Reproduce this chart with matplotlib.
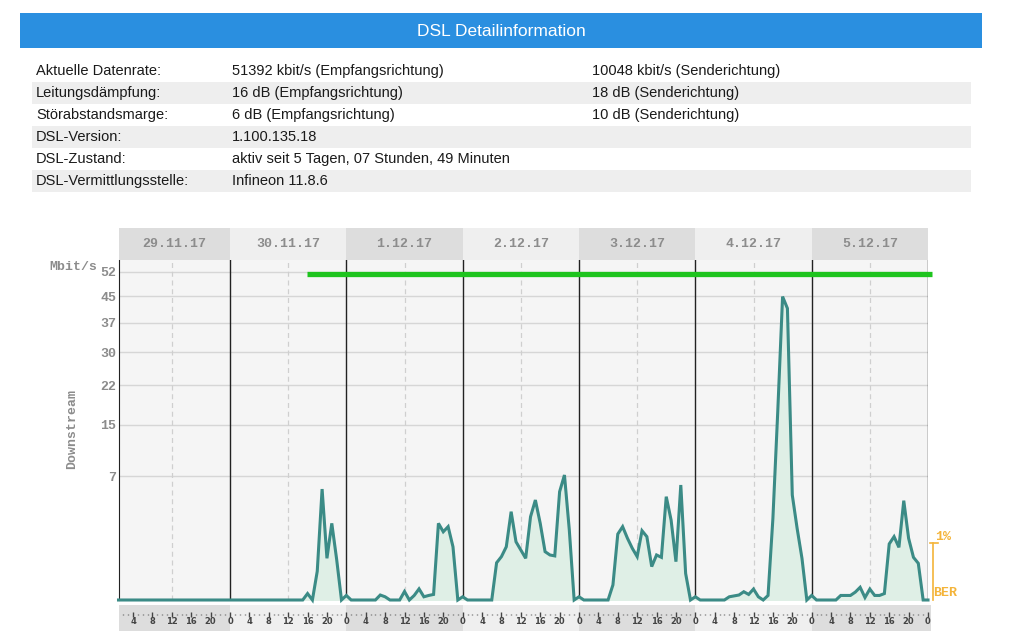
import numpy as np
import matplotlib
matplotlib.use('Agg')
import matplotlib.pyplot as plt
from matplotlib.patches import Rectangle
from matplotlib.lines import Line2D


#################### Data ####################

days = ['29.11.17', '30.11.17', '1.12.17', '2.12.17', '3.12.17', '4.12.17', '5.12.17']

# downstream usage in Mbit/s, one value per hour (0..23) for every day
ds_29_11 = [0] * 24
ds_30_11 = [0] * 15 + [0, 0.02, 0, 0.4, 5.95, 0.84, 2.84, 0.8, 0]
ds_01_12 = [0.01, 0, 0, 0, 0, 0, 0, 0.012, 0.005, 0, 0, 0,
            0.035, 0, 0.01, 0.06, 0.005, 0.01, 0.015, 2.84, 2.25, 2.6, 1.37, 0]
ds_02_12 = [0.005, 0, 0, 0, 0, 0, 0, 0.67, 0.91, 1.37, 3.77, 1.64,
            1.21, 0.84, 3.35, 4.83, 2.84, 1.13, 0.98, 0.94, 5.67, 7.55, 2.37, 0]
ds_03_12 = [0.005, 0, 0, 0, 0, 0, 0, 0.11, 2.1, 2.6, 1.84, 1.29,
            0.91, 2.32, 1.94, 0.54, 0.98, 0.88, 5.16, 3.09, 0.71, 6.39, 0.34, 0]
ds_04_12 = [0.005, 0, 0, 0, 0, 0, 0, 0.005, 0.008, 0.012, 0.033, 0.015,
            0.058, 0.005, 0, 0.01, 3.2, 17.1, 44.5, 41.1, 5.33, 2.48, 0.84, 0]
ds_05_12 = [0.01, 0, 0, 0, 0, 0, 0.01, 0.01, 0.01, 0.03, 0.078, 0.003,
            0.058, 0.01, 0.01, 0.02, 1.52, 1.94, 1.34, 4.77, 1.84, 0.88, 0.65, 0, 0]

# synchronised line rate
sync_rate = 51.392
sync_start = 39.8

y_ticks = [52 * k / 7 for k in range(1, 8)]
y_labels = ['7', '15', '22', '30', '37', '45', '52']

table_rows = [
    ('Aktuelle Datenrate:', '51392 kbit/s (Empfangsrichtung)', '10048 kbit/s (Senderichtung)'),
    ('Leitungsdämpfung:', '16 dB (Empfangsrichtung)', '18 dB (Senderichtung)'),
    ('Störabstandsmarge:', '6 dB (Empfangsrichtung)', '10 dB (Senderichtung)'),
    ('DSL-Version:', '1.100.135.18', ''),
    ('DSL-Zustand:', 'aktiv seit 5 Tagen, 07 Stunden, 49 Minuten', ''),
    ('DSL-Vermittlungsstelle:', 'Infineon 11.8.6', ''),
]

downstream = np.array(ds_29_11 + ds_30_11 + ds_01_12 + ds_02_12 + ds_03_12
                      + ds_04_12 + ds_05_12)
hours = np.arange(len(downstream))


#################### Layout helpers ####################

W, H = 1019, 631


def fx(px):
    return px / W


def fy(py):
    return 1 - py / H


mono = 'Liberation Mono'
grey_txt = '#8c8c8c'
x_min, x_max = 1.1, 168
top_val = 52 * (340 / 328) ** 2

fig = plt.figure(figsize=(W / 100, H / 100), dpi=100)
fig.patch.set_facecolor('white')

# header bar
fig.add_artist(Rectangle((fx(20), fy(48)), 962 / W, 35 / H,
                         transform=fig.transFigure, color='#2a8fe0', lw=0))
fig.text(fx(501), fy(31), 'DSL Detailinformation', color='white',
         fontsize=12.5, family='Liberation Sans', ha='center', va='center')

# info table
for i, row in enumerate(table_rows):
    y0 = 60 + 22 * i
    if i % 2 == 1:
        fig.add_artist(Rectangle((fx(32), fy(y0 + 22)), 939 / W, 22 / H,
                                 transform=fig.transFigure, color='#eeeeee',
                                 lw=0))
    for xp, txt in zip([36, 232, 592], row):
        fig.text(fx(xp), fy(y0 + 11), txt, fontsize=10.5, color='#1a1a1a',
                 family='Liberation Sans', ha='left', va='center')


#################### Main chart ####################

ax = fig.add_axes([fx(119), fy(600), (928 - 119) / W, 340 / H])
ax.set_facecolor('#f5f5f5')
ax.set_yscale('function', functions=(lambda v: np.sqrt(np.clip(v, 0, None)),
                                     lambda v: np.square(v)))
ax.set_xlim(x_min, x_max)
ax.set_ylim(0, top_val)
ax.set_yticks(y_ticks)
ax.set_yticklabels(y_labels, family=mono, fontsize=9.5, color=grey_txt,
                   fontweight='bold')
ax.set_xticks([])
ax.tick_params(axis='y', length=0, pad=2)
ax.yaxis.grid(True, color='#d6d6d6', lw=1)
ax.set_axisbelow(True)
for side in ['top', 'right', 'bottom']:
    ax.spines[side].set_visible(False)
ax.spines['left'].set_color('#222222')

# noon (dashed) and midnight (solid) separators
for d in range(len(days)):
    ax.axvline(12 + 24 * d, color='#cfcfcf', lw=0.9, ls=(0, (4, 3)), zorder=1)
    ax.axvline(24 * (d + 1), color='#222222', lw=1, zorder=1)

shown = hours >= 1
ax.fill_between(hours[shown], 0, downstream[shown], color='#dfefe6', zorder=2)
ax.plot(hours[shown], downstream[shown], color='#3b8b86', lw=2.2, zorder=3,
        solid_joinstyle='miter', clip_on=False)
ax.hlines(sync_rate, sync_start, x_max + 0.8, color='#1ec41e', lw=3.8,
          zorder=4, clip_on=False)

fig.text(fx(97), fy(267), 'Mbit/s', family=mono, fontsize=9.5,
         color=grey_txt, fontweight='bold', ha='right', va='center')
fig.text(fx(72), fy(429), 'Downstream', family=mono, fontsize=9.5,
         color=grey_txt, fontweight='bold', rotation=90, ha='center',
         va='center')

# BER marker on the right
ber = '#f4b43a'
fig.add_artist(Line2D([fx(933), fx(933)], [fy(543), fy(600)], color=ber,
                      lw=1.2))
fig.add_artist(Line2D([fx(930), fx(938)], [fy(543), fy(543)], color=ber,
                      lw=1.2))
fig.text(fx(935), fy(537), '1%', family=mono, fontsize=9.5, color=ber,
         fontweight='bold', ha='left', va='center')
fig.text(fx(933), fy(593), 'BER', family=mono, fontsize=9.5, color=ber,
         fontweight='bold', ha='left', va='center')


#################### Date bands ####################

band_top = fig.add_axes([fx(119), fy(260), (928 - 119) / W, 32 / H],
                        sharex=ax)
band_bot = fig.add_axes([fx(119), 0, (931 - 119) / W, 26 / H])
band_bot.set_xlim(x_min, x_min + (x_max - x_min) * (931 - 119) / (928 - 119))

for d, label in enumerate(days):
    shade = '#dddddd' if d % 2 == 0 else '#efefef'
    start, end = 24 * d, 24 * (d + 1)
    band_top.axvspan(start, end, color=shade, lw=0)
    band_bot.axvspan(start, end + (0.6 if d == len(days) - 1 else 0),
                     color=shade, lw=0)
    centre = (max(start, x_min) + end) / 2
    band_top.text(centre, 0.5, label, family=mono, fontsize=9.5,
                  color=grey_txt, fontweight='bold', ha='center', va='center')

for h in range(2, 169):
    if h % 4 == 0:
        band_bot.vlines(h, 0.54, 0.74, color='#444444', lw=1)
        band_bot.text(h, 0.36, str(h % 24), fontsize=6, color='#444444',
                      fontweight='bold', ha='center', va='center')
    else:
        band_bot.vlines(h, 0.62, 0.67, color='#666666', lw=1)

for b in (band_top, band_bot):
    b.set_ylim(0, 1)
    b.set_xticks([])
    b.set_yticks([])
    for s in b.spines.values():
        s.set_visible(False)
band_top.set_xlim(x_min, x_max)

fig.savefig('out.png', dpi=100, facecolor='white')
